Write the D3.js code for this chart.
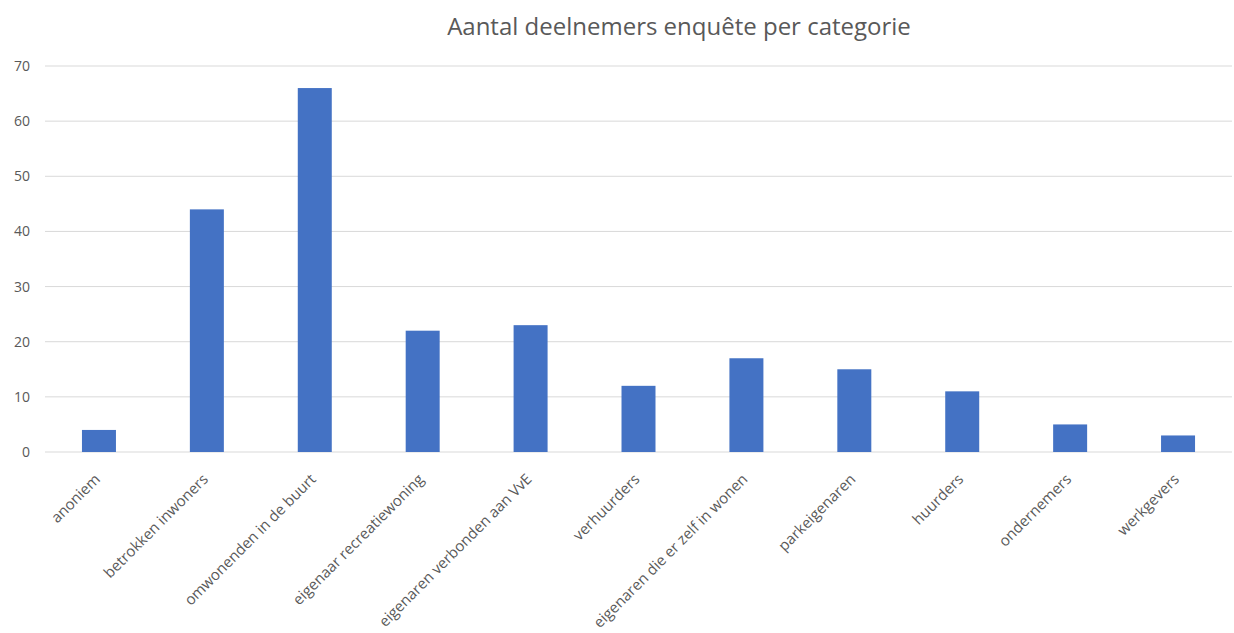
<!DOCTYPE html>
<html>
<head>
<meta charset="utf-8">
<script src="https://cdn.jsdelivr.net/npm/d3@7"></script>
<style>
  body { margin: 0; background: #fff; }
  svg { display: block; font-family: 'Open Sans', sans-serif; }
</style>
</head>
<body>
<div id="chart"></div>
<script>
const categories = [
    'anoniem', 'betrokken inwoners', 'omwonenden in de buurt', 'eigenaar recreatiewoning',
    'eigenaren verbonden aan VvE', 'verhuurders', 'eigenaren die er zelf in wonen',
    'parkeigenaren', 'huurders', 'ondernemers', 'werkgevers'
];
const counts = [4, 44, 66, 22, 23, 12, 17, 15, 11, 5, 3];
const yTicks = [0, 10, 20, 30, 40, 50, 60, 70];
const title = 'Aantal deelnemers enquête per categorie';

const width = 1234, height = 633;
const margin = { top: 66, right: 2, bottom: 181, left: 45 };
const innerW = width - margin.left - margin.right;
const innerH = height - margin.top - margin.bottom;

const svg = d3.select('#chart').append('svg')
    .attr('width', width)
    .attr('height', height);

svg.append('text')
    .attr('x', 679)
    .attr('y', 35)
    .attr('text-anchor', 'middle')
    .style('font-size', '24px')
    .style('fill', '#595959')
    .text(title);

const g = svg.append('g')
    .attr('transform', `translate(${margin.left},${margin.top})`);

const x = d3.scaleBand()
    .domain(categories)
    .range([0, innerW])
    .paddingInner(0.685)
    .paddingOuter(0.3425);

const y = d3.scaleLinear()
    .domain([0, 70])
    .range([innerH, 0]);

// gridlines
g.append('g')
    .selectAll('line')
    .data(yTicks)
    .join('line')
    .attr('x1', 0)
    .attr('x2', innerW)
    .attr('y1', d => y(d))
    .attr('y2', d => y(d))
    .attr('stroke', '#d9d9d9')
    .attr('stroke-width', 1);

// y labels
const yAxis = g.append('g')
    .call(d3.axisLeft(y).tickValues(yTicks).tickSize(0).tickPadding(15));
yAxis.select('.domain').remove();
yAxis.selectAll('text')
    .style('font-size', '14px')
    .style('font-family', "'Open Sans', sans-serif")
    .style('fill', '#595959');

// bars
g.selectAll('.bar')
    .data(categories)
    .join('rect')
    .attr('class', 'bar')
    .attr('x', d => x(d))
    .attr('width', x.bandwidth())
    .attr('y', (d, i) => y(counts[i]))
    .attr('height', (d, i) => innerH - y(counts[i]))
    .attr('fill', '#4472c4');

// x labels
const xAxis = g.append('g')
    .attr('transform', `translate(0,${innerH})`)
    .call(d3.axisBottom(x).tickSize(0));
xAxis.select('.domain').remove();
xAxis.selectAll('text')
    .attr('text-anchor', 'end')
    .attr('dy', 0)
    .attr('transform', 'translate(0,26) rotate(-45)')
    .style('font-size', '15px')
    .style('font-family', "'Open Sans', sans-serif")
    .style('fill', '#595959');
</script>
</body>
</html>
